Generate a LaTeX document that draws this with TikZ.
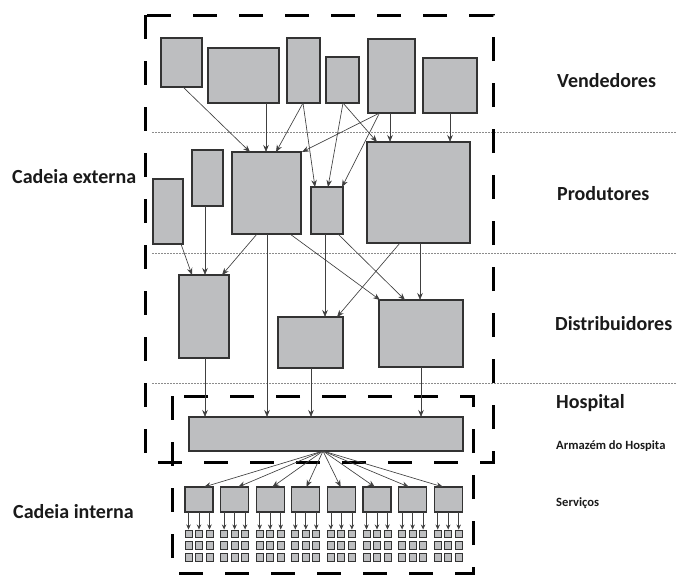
\documentclass[tikz,border=0pt]{standalone}
\usepackage{fontspec}
\setmainfont{Carlito}
\usetikzlibrary{arrows.meta}
\definecolor{boxfill}{HTML}{BDBEC0}
\definecolor{boxline}{HTML}{333333}
\definecolor{arrowc}{HTML}{404040}
\definecolor{sepc}{HTML}{8C8C8C}
\definecolor{txt}{HTML}{1A1A1A}
\newcommand\blkbox[5]{\node[blk,minimum width=#4pt,minimum height=#5pt] (#1) at (#2,#3) {};}
\begin{document}
\begin{tikzpicture}[x=1pt,y=-1pt,
  blk/.style={draw=boxline,fill=boxfill,line width=1.1pt,inner sep=0pt,outer sep=0pt,anchor=north west},
  arr/.style={draw=arrowc,line width=0.65pt,-{Stealth[length=7pt,width=5.5pt]}},
  frame/.style={draw=black,line width=3pt,dash pattern=on 24pt off 22pt},
  sep/.style={draw=sepc,line width=0.6pt,dash pattern=on 2pt off 1pt},
  lbl/.style={text=txt,font=\bfseries\fontsize{20}{24}\selectfont,anchor=base west,inner sep=0pt},
  slbl/.style={text=txt,font=\bfseries\fontsize{12.6}{15}\selectfont,anchor=base west,inner sep=0pt}]
\useasboundingbox (0,0) rectangle (676,574);
\fill[white] (0,0) rectangle (676,574);

% separators
\draw[sep] (152,132) -- (676,132);
\draw[sep] (152,253) -- (676,253);
\draw[sep] (152,383) -- (676,383);

% frames
\draw[frame] (145,15) rectangle (493,462);
\draw[frame] (172,396) rectangle (473,573);

% vendors
\blkbox{v1}{161}{38}{41}{49}
\blkbox{v2}{208}{48}{71}{55}
\blkbox{v3}{287}{38}{33}{65}
\blkbox{v4}{326}{57}{33}{46}
\blkbox{v5}{368}{39}{47}{74}
\blkbox{v6}{423}{58}{54}{55}
% producers
\blkbox{p1}{153}{179}{30}{65}
\blkbox{p2}{192}{150}{31}{56}
\blkbox{p3}{232}{152}{69}{82}
\blkbox{p4}{311}{187}{32}{47}
\blkbox{p5}{367}{142}{103}{101}
% distributors
\blkbox{d1}{179}{275}{50}{83}
\blkbox{d2}{278}{317}{65}{51}
\blkbox{d3}{379}{300}{84}{67}
% warehouse
\blkbox{bar}{189}{417}{274}{34}

% vendors -> producers
\draw[arr] ([xshift=1.5pt]v1.south) -- ([xshift=-16.5pt]p3.north);
\draw[arr] ([xshift=22.5pt]v2.south) -- ([xshift=-0.5pt]p3.north);
\draw[arr] ([xshift=-0.5pt]v3.south) -- ([xshift=9.5pt]p3.north);
\draw[arr] ([xshift=-0.5pt]v3.south) -- ([xshift=-12pt]p4.north);
\draw[arr] ([xshift=0.5pt]v4.south) -- ([xshift=1pt]p4.north);
\draw[arr] ([xshift=0.5pt]v4.south) -- ([xshift=-41.5pt]p5.north);
\draw[arr] ([xshift=-12pt]v5.south) -- ([xshift=1pt]p3.north east);
\draw[arr] ([xshift=-12pt]v5.south) -- ([xshift=15pt]p4.north);
\draw[arr] ([xshift=-1.5pt]v5.south) -- ([xshift=-28.5pt]p5.north);
\draw[arr] (v6.south) -- ([xshift=31.5pt]p5.north);

% producers -> distributors
\draw[arr] ([xshift=13pt]p1.south) -- ([xshift=-12pt]d1.north);
\draw[arr] ([xshift=-2.5pt]p2.south) -- ([xshift=1pt]d1.north);
\draw[arr] ([xshift=-9.5pt]p3.south) -- ([xshift=18pt]d1.north);
\draw[arr] ([xshift=0.5pt]p3.south) -- ([xshift=-59pt]bar.north);
\draw[arr] ([xshift=23.5pt]p3.south) -- ([xshift=-41pt]d3.north);
\draw[arr] ([xshift=-2pt]p4.south) -- ([xshift=14.5pt]d2.north);
\draw[arr] ([xshift=11pt]p4.south) -- ([xshift=-16pt]d3.north);
\draw[arr] ([xshift=-18.5pt]p5.south) -- ([xshift=26.5pt]d2.north);
\draw[arr] ([xshift=1.5pt]p5.south) -- ([xshift=-1pt]d3.north);

% distributors -> warehouse
\draw[arr] ([xshift=1pt]d1.south) -- ([xshift=-121pt]bar.north);
\draw[arr] ([xshift=0.5pt]d2.south) -- ([xshift=-15pt]bar.north);
\draw[arr] (d3.south) -- ([xshift=95pt]bar.north);

% services
\foreach \i in {1,...,8}{
  \pgfmathsetmacro{\sx}{185+35.6*(\i-1)}
  \pgfmathsetmacro{\sh}{(323-(\sx+14))*0.04}
  \blkbox{s\i}{\sx}{487}{28}{25}
  \draw[arr] ([xshift=-3pt]bar.south) -- ([xshift=\sh pt]s\i.north);
  \foreach \c in {1,2,3}{
    \foreach \r in {1,2,3}{
      \node[draw=boxline,fill=boxfill,line width=1pt,inner sep=0pt,minimum width=7pt,minimum height=7.5pt,anchor=north]
        (q\i-\c-\r) at ({\sx+14+10.5*(\c-2)},{529.5+11.8*(\r-1)}) {};
    }
    \draw[draw=arrowc,line width=0.65pt,-{Stealth[length=5pt,width=4.5pt]}]
      (s\i.south -| q\i-\c-1.north) -- (q\i-\c-1.north);
  }
}

% labels
\node[lbl] (lv) at (557,87) {Vendedores};
\node[lbl] (lp) at (557,200) {Produtores};
\node[lbl] (ld) at (555,330) {Distribuidores};
\node[lbl] (lh) at (556,408) {Hospital};
\node[slbl] (la) at (556,449) {Armazém do Hospita};
\node[slbl] (ls) at (556,506) {Serviços};
\node[lbl] (lce) at (12,183) {Cadeia externa};
\node[lbl] (lci) at (13,518) {Cadeia interna};
\end{tikzpicture}
\end{document}
